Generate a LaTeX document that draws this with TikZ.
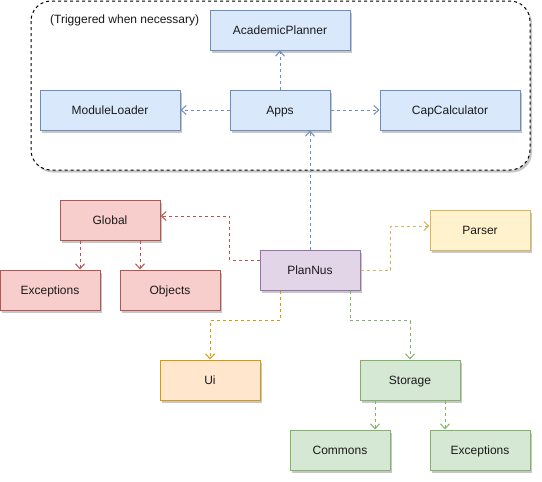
\documentclass[tikz,border=0pt]{standalone}
\usepackage{fontspec}
\setmainfont{Liberation Sans}
\usetikzlibrary{arrows.meta,shadows,calc}
\definecolor{bF}{HTML}{DAE8FC}\definecolor{bS}{HTML}{6C8EBF}
\definecolor{rF}{HTML}{F8CECC}\definecolor{rS}{HTML}{B85450}
\definecolor{yF}{HTML}{FFF2CC}\definecolor{yS}{HTML}{D6B656}
\definecolor{oF}{HTML}{FFE6CC}\definecolor{oS}{HTML}{D79B00}
\definecolor{gF}{HTML}{D5E8D4}\definecolor{gS}{HTML}{82B366}
\definecolor{pF}{HTML}{E1D5E7}\definecolor{pS}{HTML}{9673A6}
\definecolor{txt}{HTML}{1A1A1A}
\tikzset{
  box/.style={draw, line width=1pt, minimum height=40pt, inner sep=0pt,
    text height=11pt, text depth=2.5pt, text=txt,
    font=\fontsize{12pt}{14pt}\selectfont,
    drop shadow={shadow xshift=2pt, shadow yshift=-2.5pt, opacity=0.22, fill=black}},
  bluebox/.style={box, fill=bF, draw=bS},
  redbox/.style={box, fill=rF, draw=rS},
  yellowbox/.style={box, fill=yF, draw=yS},
  orangebox/.style={box, fill=oF, draw=oS},
  greenbox/.style={box, fill=gF, draw=gS},
  purplebox/.style={box, fill=pF, draw=pS},
  dep/.style={line width=1pt, dash pattern=on 3pt off 3pt,
    -{Straight Barb[length=5pt,width=9pt,line width=1pt]}},
}
\begin{document}
\begin{tikzpicture}[x=1pt,y=-1pt]
\useasboundingbox (0,0) rectangle (542,482);
% container
\draw[line width=1pt, dash pattern=on 3pt off 3pt, rounded corners=20pt,
  drop shadow={shadow xshift=2pt, shadow yshift=-2.5pt, opacity=0.22, fill=black}, fill=white]
  (31,1) rectangle (530,170);
\node[anchor=west, inner sep=0pt, text=txt, font=\fontsize{12pt}{14pt}\selectfont] (trig) at (50,20) {(Triggered when necessary)};
% nodes
\node[bluebox, minimum width=140pt] (AP) at (280,30) {AcademicPlanner};
\node[bluebox, minimum width=100pt] (Apps) at (280,110) {Apps};
\node[bluebox, minimum width=140pt] (ML) at (110,110) {ModuleLoader};
\node[bluebox, minimum width=140pt] (CC) at (450,110) {CapCalculator};
\node[redbox, minimum width=100pt] (Global) at (110,220) {Global};
\node[redbox, minimum width=100pt] (ExcR) at (50,290) {Exceptions};
\node[redbox, minimum width=100pt] (Obj) at (170,290) {Objects};
\node[purplebox, minimum width=100pt] (PN) at (310,270) {PlanNus};
\node[yellowbox, minimum width=100pt] (Parser) at (480,230) {Parser};
\node[orangebox, minimum width=100pt] (Ui) at (210,380) {Ui};
\node[greenbox, minimum width=100pt] (Storage) at (410,380) {Storage};
\node[greenbox, minimum width=100pt] (Commons) at (340,450) {Commons};
\node[greenbox, minimum width=100pt] (ExcG) at (480,450) {Exceptions};
% edges
\draw[dep, draw=bS] (Apps.north) -- (AP.south);
\draw[dep, draw=bS] (Apps.west) -- (ML.east);
\draw[dep, draw=bS] (Apps.east) -- (CC.west);
\draw[dep, draw=bS] (PN.north) -- (PN.north |- Apps.south);
\draw[dep, draw=rS] ([yshift=10pt]PN.west) -- ++(-30,0) |- ([yshift=4pt]Global.east);
\draw[dep, draw=yS] (PN.east) -- ++(30,0) |- ([yshift=4pt]Parser.west);
\draw[dep, draw=rS] ([xshift=-30pt]Global.south) -- ([xshift=-30pt]Global.south |- ExcR.north);
\draw[dep, draw=rS] ([xshift=30pt]Global.south) -- ([xshift=30pt]Global.south |- Obj.north);
\draw[dep, draw=oS] ([xshift=-30pt]PN.south) -- ++(0,30) -| (Ui.north);
\draw[dep, draw=gS] ([xshift=40pt]PN.south) -- ++(0,30) -| (Storage.north);
\draw[dep, draw=gS] ([xshift=-35pt]Storage.south) -- ([xshift=-35pt]Storage.south |- Commons.north);
\draw[dep, draw=gS] ([xshift=35pt]Storage.south) -- ([xshift=35pt]Storage.south |- ExcG.north);
\end{tikzpicture}
\end{document}
